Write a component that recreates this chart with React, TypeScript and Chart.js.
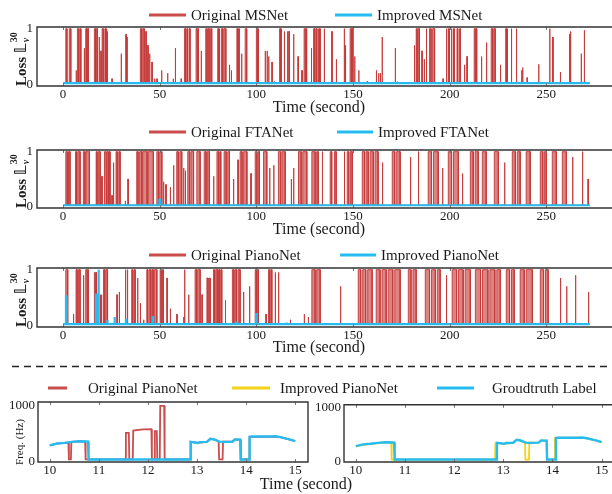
import React, { useEffect, useRef } from 'react';
import { Chart, registerables } from 'chart.js';
Chart.register(...registerables);

const SERIF = '"Liberation Serif", "Times New Roman", "DejaVu Serif", "DejaVu Sans", serif';
const RED = 'rgba(196, 56, 56, 0.9)';
const RED_FILL = 'rgba(206, 84, 84, 0.72)';
const BLUE = '#26bcf0';
const YELLOW = '#f5d21a';
const INK = '#1a1a1a';

// ---------- loss panels ----------
const lossXTicks = [0, 50, 100, 150, 200, 250];
const lossYTicks = [0, 1];
const LOSS_BASE = 0.02;
const LOSS_END = 272.5;

type Spike = [number, number, number]; // [start s, end s, loss]

const msOriginal: Spike[] = [
  [1.4, 2.0, 1], [3.2, 4.0, 1], [6.7, 6.9, 0.25], [7.4, 8.0, 1], [8.6, 9.2, 1], [10.9, 11.1, 0.65],
  [11.7, 12.3, 1], [12.7, 13.1, 1], [16.2, 16.8, 1], [17.2, 17.8, 1], [18.6, 18.8, 0.85], [19.5, 19.7, 0.6],
  [20.2, 20.8, 1], [21.6, 22.0, 1], [22.3, 22.6, 1], [22.8, 23.0, 0.95], [25.2, 25.4, 0.1], [30.0, 30.2, 0.55],
  [32.4, 32.6, 0.9], [32.9, 33.1, 0.85], [40.0, 40.6, 1], [41.2, 42.0, 1], [42.8, 43.0, 0.95], [43.8, 44.0, 0.7],
  [44.7, 44.9, 0.55], [45.9, 46.1, 0.4], [47.3, 47.5, 0.1], [48.5, 48.7, 0.1], [50.9, 51.1, 0.25], [54.0, 54.2, 0.2],
  [56.9, 57.1, 0.1], [58.0, 58.2, 0.65], [61.0, 61.2, 0.1], [62.8, 63.4, 1], [64.0, 64.4, 1], [65.2, 65.7, 1],
  [68.8, 69.3, 1], [69.7, 70.0, 1], [71.4, 71.6, 0.6], [73.8, 74.5, 1], [75.0, 75.6, 1], [76.3, 76.9, 1],
  [80.0, 80.4, 1], [80.8, 81.0, 1], [81.9, 82.6, 1], [83.2, 84.2, 1], [86.0, 86.2, 0.35], [87.0, 87.2, 0.25],
  [89.9, 90.3, 1], [90.8, 91.1, 1], [92.3, 92.5, 0.55], [94.2, 95.0, 1], [100.0, 100.4, 1], [100.7, 101.0, 1],
  [104.5, 104.7, 0.6], [105.5, 105.7, 0.6], [106.3, 106.5, 0.5], [108.0, 108.2, 0.4], [109.2, 109.4, 0.05],
  [112.0, 112.5, 1], [112.8, 113.0, 1], [114.4, 114.6, 0.95], [116.0, 116.3, 0.95], [116.8, 117.0, 0.95],
  [119.2, 119.4, 0.9], [121.5, 121.7, 0.5], [123.5, 123.7, 0.25], [124.7, 125.2, 1], [125.6, 126.0, 1],
  [128.4, 128.6, 0.65], [129.6, 130.2, 1], [130.8, 131.3, 1], [132.0, 132.4, 1], [132.7, 133.0, 1],
  [135.0, 135.3, 1], [139.0, 139.2, 0.95], [141.3, 141.5, 0.45], [145.4, 145.6, 1], [146.0, 146.2, 0.7],
  [148.5, 149.2, 1], [149.5, 150.0, 1], [150.8, 151.0, 0.5], [152.9, 153.1, 0.25], [157.2, 157.6, 0.05],
  [162.0, 162.2, 0.25], [163.2, 163.4, 0.2], [164.1, 164.3, 0.2], [165.0, 165.2, 0.85], [171.8, 172.0, 0.65],
  [173.0, 173.2, 0.05], [181.7, 181.9, 0.7], [182.7, 183.2, 1], [183.7, 184.4, 1], [185.6, 185.8, 0.6],
  [186.8, 187.0, 0.45], [187.9, 188.1, 1], [189.6, 190.4, 1], [191.2, 192.2, 1], [196.5, 196.7, 0.1],
  [198.2, 198.6, 1], [199.4, 199.8, 1], [200.8, 201.2, 1], [202.0, 202.4, 1], [203.8, 204.2, 1], [205.2, 205.5, 1],
  [207.6, 207.8, 0.35], [208.9, 209.1, 0.5], [212.7, 213.2, 1], [213.5, 214.0, 1], [216.4, 216.6, 0.5],
  [219.0, 219.2, 0.75], [221.5, 222.2, 1], [222.8, 223.6, 1], [226.2, 226.4, 0.35], [229.0, 229.4, 1],
  [229.7, 230.0, 1], [231.9, 232.1, 1], [234.5, 234.7, 1], [237.2, 237.4, 0.25], [237.7, 237.9, 0.3],
  [240.0, 240.2, 0.12], [246.0, 246.2, 0.36], [251.7, 251.9, 1], [253.3, 253.5, 0.85], [257.2, 257.4, 0.22],
  [261.9, 262.1, 0.9], [262.4, 262.7, 0.95], [268.0, 268.2, 0.55], [269.6, 269.8, 0.97],
];
const msImproved: Spike[] = [];

const ftaOriginal: Spike[] = [
  [1.4, 2.2, 1], [2.8, 3.6, 1], [6.4, 7.0, 1], [7.6, 8.8, 1], [10.5, 11.3, 1], [11.8, 13.6, 1],
  [17.1, 17.6, 1], [18.2, 19.2, 1], [20.0, 20.2, 0.55], [21.4, 22.2, 1], [22.7, 23.4, 1], [23.9, 24.3, 1],
  [25.2, 25.4, 0.2], [26.0, 26.2, 0.8], [27.4, 28.0, 1], [28.8, 29.5, 1], [32.1, 32.3, 0.1], [33.5, 33.7, 0.5],
  [38.1, 38.8, 1], [39.6, 40.7, 1], [41.2, 43.5, 1], [44.0, 46.7, 1], [48.5, 49.4, 1], [50.0, 51.1, 1],
  [51.9, 52.1, 0.45], [53.1, 53.3, 0.4], [55.4, 55.6, 0.35], [57.1, 57.3, 0.75], [58.8, 59.6, 1], [60.4, 61.4, 1],
  [62.3, 62.5, 0.7], [63.2, 63.4, 0.65], [64.5, 65.5, 1], [66.2, 67.5, 1], [69.2, 70.9, 1], [73.0, 74.0, 1],
  [74.6, 75.7, 1], [77.8, 78.0, 0.55], [79.6, 80.4, 1], [81.0, 81.6, 1], [83.3, 84.4, 1], [85.2, 86.1, 1],
  [88.1, 88.3, 0.5], [90.4, 90.6, 0.85], [91.6, 92.6, 1], [93.4, 95.1, 1], [97.1, 97.3, 0.6], [99.4, 100.3, 1],
  [100.9, 101.6, 1], [103.7, 105.4, 1], [106.8, 107.0, 0.7], [108.9, 109.1, 0.75], [111.4, 112.6, 1],
  [113.3, 114.9, 1], [118.0, 118.2, 0.5], [119.2, 119.4, 0.7], [121.8, 123.2, 1], [124.0, 126.1, 1],
  [128.7, 130.4, 1], [131.2, 132.0, 1], [134.0, 134.3, 1], [138.2, 139.0, 1], [140.4, 141.3, 1],
  [145.4, 145.7, 1], [147.0, 147.8, 1], [148.6, 149.6, 1], [154.8, 156.0, 1], [156.8, 157.9, 1],
  [158.9, 160.5, 1], [161.4, 163.0, 1], [165.1, 165.4, 0.8], [170.3, 171.6, 1], [172.6, 174.4, 1],
  [179.6, 179.9, 0.9], [183.7, 184.0, 1], [188.9, 190.6, 1], [191.6, 194.1, 1], [196.2, 196.5, 0.7],
  [199.3, 201.0, 1], [202.0, 204.5, 1], [206.5, 206.8, 0.6], [210.7, 212.2, 1], [213.2, 214.8, 1],
  [216.9, 218.9, 1], [223.1, 225.2, 1], [228.3, 228.6, 0.8], [232.4, 234.0, 1], [235.0, 236.5, 1],
  [239.6, 241.7, 1], [246.9, 248.2, 1], [249.0, 250.0, 1], [253.1, 255.2, 1], [258.3, 260.4, 1],
  [263.5, 263.8, 0.9], [268.6, 268.9, 1], [271.5, 271.8, 0.5],
];
const ftaImproved: Spike[] = [[49.8, 50.3, 0.12]];

const pianoOriginal: Spike[] = [
  [1.4, 2.4, 1], [5.3, 5.5, 0.2], [6.7, 7.3, 1], [8.0, 8.8, 1], [10.5, 10.7, 0.9], [11.7, 12.4, 1], [12.7, 13.1, 1],
  [16.2, 16.6, 0.95], [17.0, 17.3, 0.95], [19.2, 19.4, 0.55], [19.8, 20.0, 0.55], [20.9, 21.6, 1], [22.2, 23.0, 1],
  [27.8, 28.0, 0.55], [29.0, 29.2, 0.6], [32.1, 32.5, 1], [33.1, 33.5, 1], [35.5, 36.1, 1], [36.8, 37.3, 1],
  [38.5, 38.7, 0.85], [39.9, 40.1, 0.4], [41.6, 41.8, 0.1], [43.3, 43.8, 1], [44.5, 45.4, 1], [46.0, 46.6, 1],
  [47.2, 48.5, 1], [50.2, 50.8, 1], [51.4, 51.9, 1], [53.7, 53.9, 0.85], [55.4, 55.6, 0.3], [58.8, 59.0, 0.2],
  [62.3, 62.5, 0.15], [62.8, 63.0, 1], [64.9, 65.1, 0.55], [68.3, 69.0, 1], [69.6, 70.9, 1], [71.8, 72.0, 0.55],
  [74.4, 75.0, 0.85], [75.6, 76.1, 0.85], [77.8, 78.4, 1], [79.0, 79.8, 1], [80.4, 81.0, 1], [81.6, 82.1, 1],
  [83.9, 84.1, 0.45], [87.6, 88.4, 1], [89.0, 89.8, 1], [90.6, 91.6, 1], [93.3, 93.5, 0.6], [96.4, 96.6, 0.7],
  [99.4, 100.0, 1], [100.5, 101.1, 1], [104.9, 105.1, 0.2], [106.3, 106.9, 1], [107.5, 108.0, 1],
  [109.7, 109.9, 0.95], [111.4, 111.6, 0.95], [117.5, 117.7, 0.1], [124.7, 124.9, 0.2], [126.8, 127.0, 0.15],
  [128.7, 130.4, 1], [131.2, 133.0, 1], [143.4, 143.7, 0.7], [152.7, 154.0, 1], [155.0, 156.6, 1],
  [157.6, 159.9, 1], [162.0, 164.0, 1], [165.0, 167.2, 1], [168.2, 170.6, 1], [171.6, 174.4, 1],
  [178.6, 180.0, 1], [181.0, 182.7, 1], [187.4, 189.6, 1], [190.6, 192.6, 1], [193.6, 195.1, 1],
  [198.2, 198.5, 0.9], [201.3, 203.6, 1], [204.6, 207.0, 1], [208.0, 210.7, 1], [213.3, 216.0, 1],
  [217.0, 219.8, 1], [220.8, 223.4, 1], [224.4, 226.2, 1], [229.3, 231.0, 1], [232.0, 233.4, 1],
  [236.5, 238.6, 1], [239.6, 242.8, 1], [246.9, 248.6, 1], [249.6, 251.0, 1], [257.2, 257.5, 0.85],
  [260.4, 260.7, 0.7], [265.0, 265.3, 0.9], [271.7, 272.0, 0.6],
];
const pianoImproved: Spike[] = [
  [1.5, 1.8, 0.52], [17.0, 17.3, 0.55], [18.2, 18.5, 1.0], [22.8, 23.0, 0.1], [26.5, 26.8, 0.15],
  [32.5, 32.8, 0.1], [46.3, 46.6, 0.15], [89.4, 89.7, 0.05], [99.8, 100.1, 0.2], [115.5, 115.8, 0.05],
];

// ---------- frequency panels ----------
const freqXTicks = [10, 11, 12, 13, 14, 15];
const freqYTicks = [0, 1000];

const gtTime = [10.0, 10.15, 10.3, 10.45, 10.6, 10.75, 10.78, 10.79, 12.86, 12.87, 13.02, 13.05, 13.2, 13.27, 13.35, 13.45,
  13.55, 13.72, 13.77, 13.88, 13.89, 14.06, 14.07, 14.1, 14.5, 14.6, 14.7, 14.9, 15.0];
const gtFreq = [295, 326, 337, 355, 366, 362, 360, 45, 45, 355, 337, 352, 356, 410, 398, 360,
  355, 358, 400, 395, 45, 45, 445, 450, 450, 455, 440, 395, 370];

const origTime = [10.0, 10.15, 10.3, 10.38, 10.39, 10.43, 10.44, 10.6, 10.72, 10.73, 11.54, 11.55, 11.61, 11.62,
  11.69, 11.7, 11.9, 12.07, 12.08, 12.13, 12.14, 12.18, 12.19, 12.24, 12.25, 12.33, 12.34, 12.86, 12.87, 13.02,
  13.2, 13.27, 13.35, 13.44, 13.45, 13.52, 13.53, 13.72, 13.77, 13.88, 13.89, 14.06, 14.07, 14.5, 14.7, 15.0];
const origFreq = [295, 326, 337, 340, 45, 45, 355, 366, 362, 45, 45, 516, 516, 45,
  45, 555, 575, 580, 45, 45, 545, 545, 45, 45, 990, 990, 45, 45, 355, 337,
  356, 410, 398, 365, 45, 45, 360, 358, 400, 395, 45, 45, 445, 450, 440, 370];

const impTime = [10.0, 10.3, 10.6, 10.72, 10.73, 12.83, 12.84, 13.02, 13.2, 13.27, 13.35, 13.44, 13.45, 13.52, 13.53,
  13.72, 13.77, 13.88, 13.89, 14.04, 14.05, 14.5, 14.7, 15.0];
const impFreq = [295, 337, 366, 362, 45, 45, 350, 337, 356, 410, 398, 365, 45, 45, 358,
  358, 400, 395, 45, 45, 445, 450, 440, 370];

// ---------- helpers ----------
function spikePoints(spikes: Spike[], base: number, end: number) {
  const pts: { x: number; y: number }[] = [{ x: 0, y: base }];
  [...spikes].sort((a, b) => a[0] - b[0]).forEach(([s, e, h]) => {
    pts.push({ x: s, y: base }, { x: s, y: h }, { x: e, y: h }, { x: e, y: base });
  });
  pts.push({ x: end, y: base });
  return pts;
}
function zipXY(xs: number[], ys: number[]) {
  return xs.map((x, i) => ({ x, y: ys[i] }));
}

interface LegendItem { color: string; x1: number; x2: number; tx: number; label: string }
interface DecorOpts {
  legendY?: number;
  legend?: LegendItem[];
  title?: { text: string; x: number; y: number };
  yTitle?: 'loss' | 'freq';
  rightBorder?: boolean;
  dashY?: number;
}

function decorPlugin(o: DecorOpts) {
  return {
    id: 'decor',
    afterDraw(chart: any) {
      const { ctx, chartArea: a, scales } = chart;
      ctx.save();
      // inward ticks
      ctx.strokeStyle = '#777';
      ctx.lineWidth = 1;
      scales.x.ticks.forEach((t: any) => {
        const px = Math.round(scales.x.getPixelForValue(t.value)) + 0.5;
        ctx.beginPath();
        ctx.moveTo(px, a.bottom); ctx.lineTo(px, a.bottom - 3);
        ctx.moveTo(px, a.top); ctx.lineTo(px, a.top + 3);
        ctx.stroke();
      });
      // frame
      ctx.strokeStyle = '#333';
      ctx.lineWidth = 1.4;
      ctx.beginPath();
      const r = o.rightBorder ? a.right : a.right + 4;
      ctx.moveTo(r, a.top);
      ctx.lineTo(a.left, a.top);
      ctx.lineTo(a.left, a.bottom);
      ctx.lineTo(r, a.bottom);
      if (o.rightBorder) ctx.closePath();
      ctx.stroke();
      // legend
      if (o.legend) {
        ctx.font = `15px ${SERIF}`;
        ctx.textBaseline = 'middle';
        ctx.textAlign = 'left';
        o.legend.forEach((it) => {
          ctx.strokeStyle = it.color;
          ctx.lineWidth = 3;
          ctx.beginPath();
          ctx.moveTo(it.x1, o.legendY!);
          ctx.lineTo(it.x2, o.legendY!);
          ctx.stroke();
          ctx.fillStyle = INK;
          ctx.fillText(it.label, it.tx, o.legendY! + 1);
        });
      }
      // x title
      if (o.title) {
        ctx.font = `16px ${SERIF}`;
        ctx.fillStyle = INK;
        ctx.textAlign = 'center';
        ctx.textBaseline = 'middle';
        ctx.fillText(o.title.text, o.title.x, o.title.y);
      }
      // y title
      if (o.yTitle === 'loss') {
        ctx.save();
        ctx.translate(26, a.bottom);
        ctx.rotate(-Math.PI / 2);
        ctx.fillStyle = INK;
        ctx.textAlign = 'left';
        ctx.textBaseline = 'alphabetic';
        ctx.font = `bold 15px ${SERIF}`;
        let x = 0;
        ctx.fillText('Loss ', x, 0);
        x += ctx.measureText('Loss ').width;
        ctx.fillText('𝕃', x, 0);
        x += ctx.measureText('𝕃').width;
        ctx.font = `italic bold 10px ${SERIF}`;
        ctx.fillText('v', x + 1, 3);
        ctx.font = `bold 10px ${SERIF}`;
        ctx.fillText('30', x + 1, -9);
        ctx.restore();
      } else if (o.yTitle === 'freq') {
        ctx.save();
        ctx.translate(20, a.bottom - 20);
        ctx.rotate(-Math.PI / 2);
        ctx.fillStyle = INK;
        ctx.textAlign = 'center';
        ctx.textBaseline = 'middle';
        ctx.font = `11px ${SERIF}`;
        ctx.fillText('Freq. (Hz)', 0, 0);
        ctx.restore();
      }
      if (o.dashY !== undefined) {
        ctx.strokeStyle = '#222';
        ctx.lineWidth = 1.5;
        ctx.setLineDash([7, 5]);
        ctx.beginPath();
        ctx.moveTo(12, o.dashY);
        ctx.lineTo(612, o.dashY);
        ctx.stroke();
        ctx.setLineDash([]);
      }
      ctx.restore();
    },
  };
}

function scaleOpts(min: number, max: number, ticks: number[], extra: any) {
  return {
    type: 'linear',
    min,
    max,
    grid: { display: false, drawTicks: false },
    border: { display: false },
    ticks: {
      font: { family: SERIF, size: 13 },
      color: INK,
      autoSkip: false,
      maxRotation: 0,
      callback: (v: any) => String(v),
      ...(extra.ticks || {}),
    },
    afterBuildTicks: (s: any) => { s.ticks = ticks.map((v) => ({ value: v })); },
    afterFit: extra.afterFit,
  };
}

function ChartCanvas({ left, top, width, height, make }: { left: number; top: number; width: number; height: number; make: () => any }) {
  const ref = useRef<HTMLCanvasElement>(null);
  useEffect(() => {
    const chart = new Chart(ref.current!, make());
    return () => chart.destroy();
  }, []);
  return (
    <canvas
      ref={ref}
      width={width}
      height={height}
      style={{ position: 'absolute', left, top, width, height }}
    />
  );
}

function lossConfig(orig: Spike[], imp: Spike[], padTop: number, legendY: number, titleY: number, names: [string, string], blueX: [number, number, number]) {
  return {
    type: 'line',
    data: {
      datasets: [
        {
          label: names[1],
          data: spikePoints(imp, LOSS_BASE, LOSS_END),
          borderColor: BLUE,
          borderWidth: 2.2,
          pointRadius: 0,
          fill: false,
          order: 0,
        },
        {
          label: names[0],
          data: spikePoints(orig, LOSS_BASE, LOSS_END),
          borderColor: RED,
          backgroundColor: RED_FILL,
          borderWidth: 1,
          pointRadius: 0,
          fill: { value: LOSS_BASE },
          order: 1,
        },
      ],
    },
    options: {
      responsive: false,
      animation: false,
      events: [],
      layout: { padding: { top: padTop, left: 0, right: 0, bottom: 0 } },
      plugins: { legend: { display: false }, tooltip: { enabled: false } },
      elements: { line: { tension: 0 } },
      scales: {
        x: scaleOpts(-13.5, 284, lossXTicks, { ticks: { padding: 1 }, afterFit: (s: any) => { s.height = 32; } }),
        y: scaleOpts(-0.03, 1.03, lossYTicks, { ticks: { padding: 4 }, afterFit: (s: any) => { s.width = 37; } }),
      },
    },
    plugins: [
      decorPlugin({
        legendY,
        legend: [
          { color: RED, x1: 149, x2: 186, tx: 191, label: names[0] },
          { color: BLUE, x1: blueX[0], x2: blueX[1], tx: blueX[2], label: names[1] },
        ],
        title: { text: 'Time (second)', x: 319, y: titleY },
        yTitle: 'loss',
      }),
    ],
  };
}

function freqConfig(series: { data: { x: number; y: number }[]; color: string; width: number; order: number }[], min: number, max: number, padTop: number, padRight: number, yW: number, decor: DecorOpts) {
  return {
    type: 'line',
    data: {
      datasets: series.map((s) => ({
        data: s.data,
        borderColor: s.color,
        borderWidth: s.width,
        pointRadius: 0,
        fill: false,
        order: s.order,
      })),
    },
    options: {
      responsive: false,
      animation: false,
      events: [],
      layout: { padding: { top: padTop, left: 0, right: padRight, bottom: 0 } },
      plugins: { legend: { display: false }, tooltip: { enabled: false } },
      elements: { line: { tension: 0 } },
      scales: {
        x: scaleOpts(min, max, freqXTicks, { ticks: { padding: 1 }, afterFit: (s: any) => { s.height = 32; } }),
        y: scaleOpts(0, 1060, freqYTicks, { ticks: { padding: 3 }, afterFit: (s: any) => { s.width = yW; } }),
      },
    },
    plugins: [decorPlugin(decor)],
  };
}

export default function App() {
  return (
    <div style={{ position: 'absolute', left: 0, top: 0, width: 612, height: 494, background: '#fff', overflow: 'hidden' }}>
      <ChartCanvas left={0} top={0} width={612} height={118}
        make={() => lossConfig(msOriginal, msImproved, 27, 15, 108, ['Original MSNet', 'Improved MSNet'], [335, 372, 377])} />
      <ChartCanvas left={0} top={118} width={612} height={122}
        make={() => lossConfig(ftaOriginal, ftaImproved, 32, 14, 112, ['Original FTANet', 'Improved FTANet'], [337, 373, 378])} />
      <ChartCanvas left={0} top={240} width={612} height={119}
        make={() => lossConfig(pianoOriginal, pianoImproved, 28, 15, 108, ['Original PianoNet', 'Improved PianoNet'], [340, 376, 381])} />
      <ChartCanvas left={0} top={360} width={612} height={134}
        make={() => freqConfig(
          [
            { data: zipXY(gtTime, gtFreq), color: BLUE, width: 2.4, order: 0 },
            { data: zipXY(origTime, origFreq), color: RED, width: 1.8, order: 1 },
          ],
          9.76, 15.26, 42, 304, 38,
          {
            rightBorder: true,
            yTitle: 'freq',
            dashY: 6.5,
            legendY: 28,
            legend: [
              { color: RED, x1: 48, x2: 67, tx: 88, label: 'Original PianoNet' },
              { color: YELLOW, x1: 232, x2: 270, tx: 280, label: 'Improved PianoNet' },
              { color: BLUE, x1: 437, x2: 474, tx: 492, label: 'Groudtruth Label' },
            ],
            title: { text: 'Time (second)', x: 306, y: 125 },
          },
        )} />
      <ChartCanvas left={312} top={394} width={300} height={100}
        make={() => freqConfig(
          [
            { data: zipXY(gtTime, gtFreq), color: BLUE, width: 2.4, order: 0 },
            { data: zipXY(impTime, impFreq), color: YELLOW, width: 1.8, order: 1 },
          ],
          9.76, 15.21, 8, 0, 32,
          { rightBorder: false },
        )} />
    </div>
  );
}
